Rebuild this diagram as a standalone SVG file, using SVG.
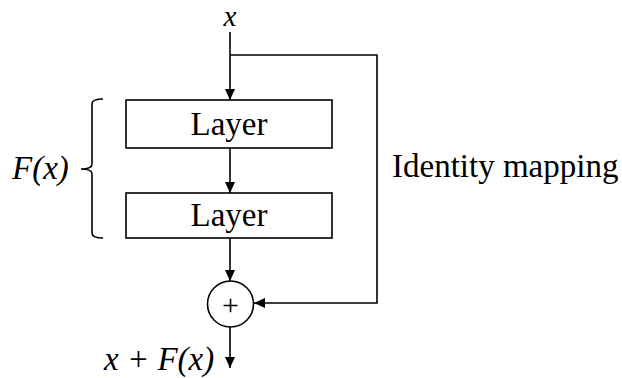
<svg xmlns="http://www.w3.org/2000/svg" width="622" height="378" viewBox="0 0 622 378">
<style>
.ln{stroke:#000;stroke-width:1.6;fill:none}
.bx{stroke:#000;stroke-width:1.6;fill:#fff}
.t{font-family:"Liberation Serif","Times New Roman",serif;font-size:33px;fill:#000}
.i{font-style:italic}
</style>
<defs>
<marker id="ah" viewBox="0 0 11 10" refX="11" refY="5" markerWidth="11" markerHeight="10" markerUnits="userSpaceOnUse" orient="auto">
<path d="M0,0 L11,5 L0,10 Z" fill="#000"/>
</marker>
</defs>
<rect width="622" height="378" fill="#fff"/>
<g id="connectors">
<line class="ln" x1="230" y1="32" x2="230" y2="100" marker-end="url(#ah)"/>
<polyline class="ln" points="230,55 377,55 377,303 254,303" marker-end="url(#ah)"/>
<line class="ln" x1="230" y1="148" x2="230" y2="193" marker-end="url(#ah)"/>
<line class="ln" x1="230" y1="238" x2="230" y2="281" marker-end="url(#ah)"/>
<line class="ln" x1="230" y1="327" x2="230" y2="368" marker-end="url(#ah)"/>
</g>
<g id="input"><text class="t i" x="230" y="26" text-anchor="middle" style="font-size:29px">x</text></g>
<g id="layer1">
<rect class="bx" x="126" y="100" width="206" height="48"/>
<text class="t" x="229" y="135" text-anchor="middle">Layer</text>
</g>
<g id="layer2">
<rect class="bx" x="126" y="193" width="206" height="45"/>
<text class="t" x="229" y="226" text-anchor="middle">Layer</text>
</g>
<g id="sum">
<circle class="bx" cx="230.5" cy="304" r="23"/>
<text class="t" x="230.5" y="315" text-anchor="middle" style="font-size:30px">+</text>
</g>
<g id="brace">
<path class="ln" d="M103,99 Q92,99 92,104 L92,164 Q92,169 81,169 Q92,169 92,174 L92,233 Q92,238 103,238"/>
<text class="t i" x="12" y="179">F(x)</text>
</g>
<g id="identity"><text class="t" x="392" y="177">Identity mapping</text></g>
<g id="output"><text class="t i" x="104" y="370">x + F(x)</text></g>
</svg>
